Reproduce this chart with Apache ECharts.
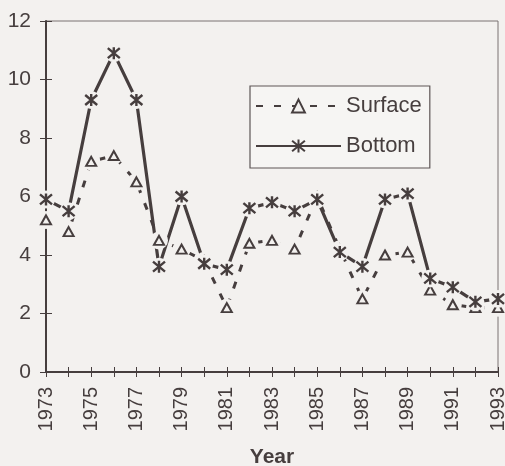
<!DOCTYPE html>
<html>
<head>
<meta charset="utf-8">
<script src="https://cdn.jsdelivr.net/npm/echarts@6/dist/echarts.min.js"></script>
<style>
  html, body { margin: 0; padding: 0; background: #f3f1ef; }
  #chart { width: 505px; height: 466px; }
</style>
</head>
<body>
<div id="chart"></div>
<script>
// Annual values, 1973-1993
const years = ['1973','1974','1975','1976','1977','1978','1979','1980','1981','1982','1983',
               '1984','1985','1986','1987','1988','1989','1990','1991','1992','1993'];
const surface = [5.2, 4.8, 7.2, 7.4, 6.5, 4.5, 4.2, 3.8, 2.2, 4.4, 4.5,
                 4.2, 6.0, 4.2, 2.5, 4.0, 4.1, 2.8, 2.3, 2.2, 2.2];
const bottom  = [5.9, 5.5, 9.3, 10.9, 9.3, 3.6, 6.0, 3.7, 3.5, 5.6, 5.8,
                 5.5, 5.9, 4.1, 3.6, 5.9, 6.1, 3.2, 2.9, 2.4, 2.5];
const yTicks = [0, 2, 4, 6, 8, 10, 12];

const ink = '#463e3e';
const paper = '#f3f1ef';
const font = 'Liberation Sans, Arial, sans-serif';
const asterisk = 'path://M0,0L10,10M10,0L0,10M5,-1L5,11';

const starStyle = { color: 'none', borderColor: ink, borderWidth: 2.4, opacity: 1 };
const triStyle = { color: paper, borderColor: ink, borderWidth: 2, opacity: 1 };

// pair each value with its category index for the scatter overlays
const pairs = vals => years.map((y, i) => [i, vals[i]]);

// background-coloured discs that open small gaps in the lines around each marker
function halo(vals, z) {
  return {
    type: 'scatter', data: pairs(vals), z: z, symbol: 'circle', symbolSize: 18,
    itemStyle: { color: paper, opacity: 1 }, silent: true, animation: false
  };
}

const chart = echarts.init(document.getElementById('chart'), null, { renderer: 'canvas' });
chart.setOption({
  backgroundColor: paper,
  animation: false,
  grid: { left: 46, right: 7, top: 21, bottom: 94, show: true, borderColor: '#7a7272', borderWidth: 1,
          containLabel: false, outerBoundsMode: 'none' },
  legend: {
    data: ['Surface', 'Bottom'],
    orient: 'vertical',
    left: 250, top: 86,
    itemWidth: 85, itemHeight: 16, itemGap: 18,
    padding: [9, 8, 11, 5],
    backgroundColor: '#f6f5f3',
    borderColor: '#5e5656', borderWidth: 1.2,
    textStyle: { fontFamily: font, fontSize: 22, color: ink }
  },
  xAxis: [{
    type: 'category', data: years, boundaryGap: false,
    axisLine: { lineStyle: { color: ink, width: 2 } },
    axisTick: { show: true, interval: 0, length: 5, lineStyle: { color: ink, width: 1 } },
    axisLabel: { interval: 1, rotate: 90, margin: 15, fontFamily: font, fontSize: 20, color: ink },
    name: 'Year', nameLocation: 'middle', nameGap: 75,
    nameTextStyle: { fontFamily: font, fontSize: 21, fontWeight: 'bold', color: ink }
  }, {
    type: 'category', data: years, boundaryGap: false, position: 'bottom',
    axisLine: { show: false },
    axisTick: { show: true, inside: true, interval: 0, length: 5, lineStyle: { color: ink, width: 1 } },
    axisLabel: { show: false }
  }],
  yAxis: [{
    type: 'value', min: yTicks[0], max: yTicks[yTicks.length - 1], interval: 2,
    axisLine: { show: true, lineStyle: { color: ink, width: 2 } },
    axisTick: { show: true, length: 6, lineStyle: { color: ink, width: 1 } },
    axisLabel: { margin: 15, fontFamily: font, fontSize: 21, color: ink },
    splitLine: { show: false }
  }, {
    type: 'value', min: yTicks[0], max: yTicks[yTicks.length - 1], interval: 2, position: 'left',
    axisLine: { show: false },
    axisTick: { show: true, inside: true, length: 6, lineStyle: { color: ink, width: 1 } },
    axisLabel: { show: false },
    splitLine: { show: false }
  }],
  series: [
    {
      name: 'Surface', type: 'line', data: surface, z: 2,
      symbol: 'triangle', symbolSize: [10, 9], itemStyle: triStyle,
      lineStyle: { color: ink, width: 3, type: [7, 11] }
    },
    {
      name: 'Bottom', type: 'line', data: bottom, z: 2,
      symbol: asterisk, symbolSize: 12, itemStyle: starStyle,
      lineStyle: { color: ink, width: 3.2 }
    },
    halo(surface, 3),
    {
      type: 'scatter', data: pairs(surface), z: 4, symbol: 'triangle', symbolSize: [10, 9],
      itemStyle: triStyle, silent: true
    },
    halo(bottom, 5),
    {
      type: 'scatter', data: pairs(bottom), z: 6, symbol: asterisk, symbolSize: 12,
      itemStyle: starStyle, silent: true
    }
  ]
});
</script>
</body>
</html>
